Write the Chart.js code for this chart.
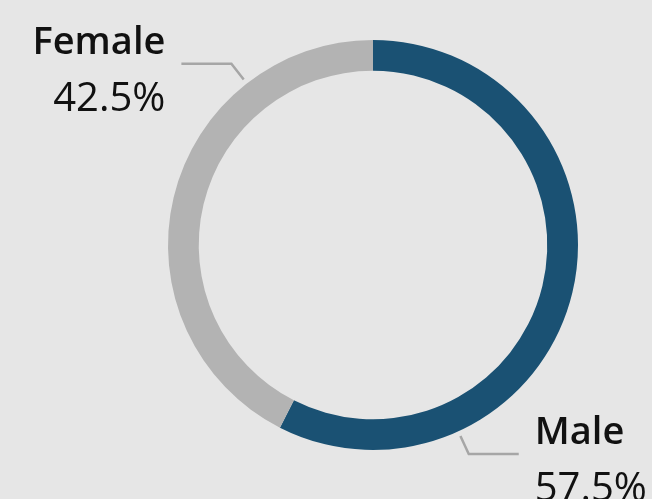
<!DOCTYPE html>
<html><head><meta charset="utf-8">
<script src="https://cdn.jsdelivr.net/npm/chart.js@4/dist/chart.umd.min.js"></script>
<style>html,body{margin:0;padding:0;background:#e6e6e6;}#wrap{width:652px;height:499px;}</style>
</head><body><div id="wrap"><canvas id="c" width="652" height="499"></canvas></div>
<script>
const categories = ["Male", "Female"];
const shares = [57.5, 42.5];
const percentLabels = ["57.5%", "42.5%"];
const sliceColors = ["#1a5173", "#b3b3b3"];

const labelPlugin = {
  id: 'leaderLabels',
  afterDatasetsDraw(chart, args, opts) {
    const ctx = chart.ctx;
    const meta = chart.getDatasetMeta(0);
    meta.data.forEach((arc, i) => {
      const cfg = opts.items[i];
      const a = cfg.angle * Math.PI / 180;
      const R = arc.outerRadius;
      const sx = arc.x + Math.cos(a) * (R + 5), sy = arc.y + Math.sin(a) * (R + 5);
      const ex = arc.x + Math.cos(a) * (R + 25), ey = arc.y + Math.sin(a) * (R + 25);
      const dir = cfg.side === 'left' ? -1 : 1;
      const hx = ex + dir * 50;
      ctx.save();
      ctx.strokeStyle = '#a6a6a6';
      ctx.lineWidth = 2.5;
      ctx.beginPath();
      ctx.moveTo(sx, sy); ctx.lineTo(ex, ey); ctx.lineTo(hx, ey);
      ctx.stroke();
      ctx.fillStyle = '#111';
      ctx.textAlign = cfg.side === 'left' ? 'right' : 'left';
      ctx.textBaseline = 'alphabetic';
      const tx = hx + dir * 16;
      ctx.font = '600 38px "Open Sans"';
      ctx.fillText(chart.data.labels[i], tx, ey - 10);
      ctx.font = '500 40px "Open Sans"';
      ctx.fillText(percentLabels[i], tx, ey + 47);
      ctx.restore();
    });
  }
};

new Chart(document.getElementById('c'), {
  type: 'doughnut',
  data: {
    labels: categories,
    datasets: [{ data: shares, backgroundColor: sliceColors, borderWidth: 0, hoverOffset: 0 }]
  },
  options: {
    responsive: false,
    animation: false,
    cutout: '85%',
    layout: { padding: { left: 168, right: 74, top: 40, bottom: 49 } },
    plugins: {
      legend: { display: false },
      tooltip: { enabled: false },
      leaderLabels: { items: [ { angle: 65.4, side: 'right' }, { angle: 232, side: 'left' } ] }
    }
  },
  plugins: [labelPlugin]
});
</script></body></html>
